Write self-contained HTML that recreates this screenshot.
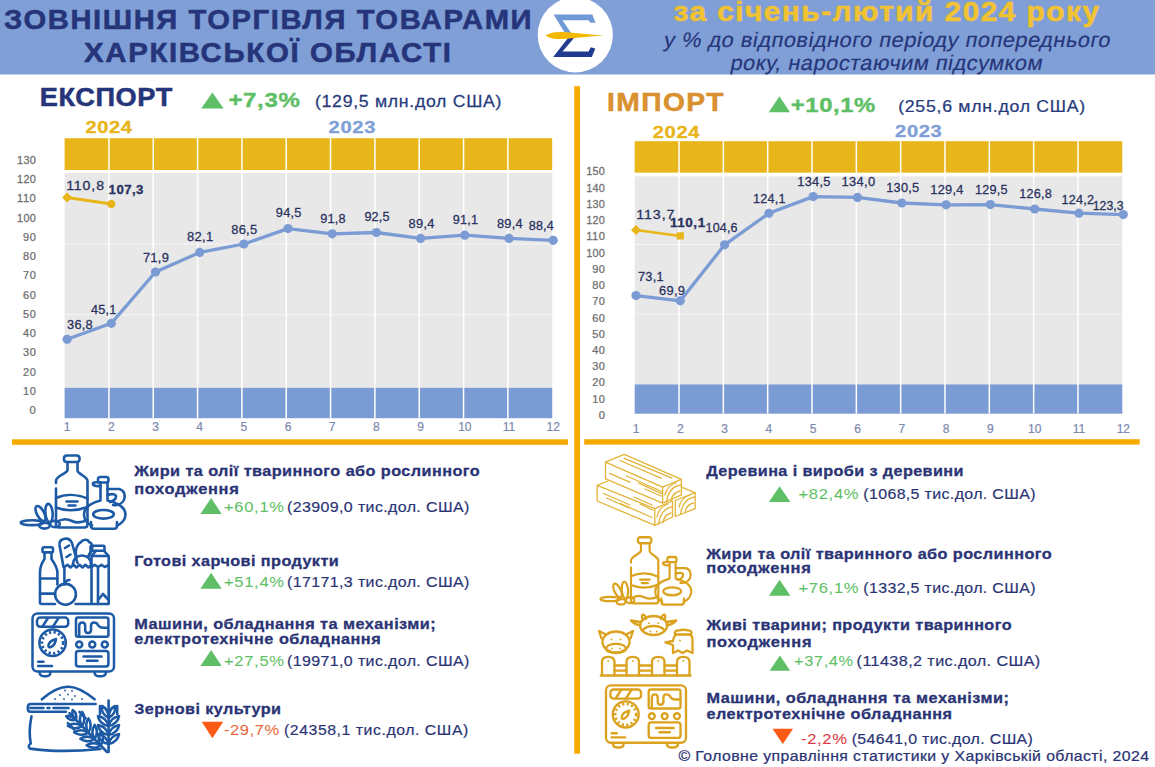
<!DOCTYPE html>
<html><head><meta charset="utf-8"><title>Зовнішня торгівля товарами Харківської області</title>
<style>html,body{margin:0;padding:0;background:#fff;width:1155px;height:767px;overflow:hidden}
text{font-family:"Liberation Sans", sans-serif}</style></head><body>
<svg width="1155" height="767" viewBox="0 0 1155 767" style="display:block"><rect width="1155" height="767" fill="#ffffff"/><rect x="0" y="0" width="1155" height="74.5" fill="#7f9fd6"/><g transform="translate(4.0,28.7) scale(1.0810,1)"><text x="0" y="0" font-size="27" font-weight="bold" font-style="normal" fill="#26357a" text-anchor="start" textLength="488.0" lengthAdjust="spacing" stroke="#26357a" stroke-width="0.54">ЗОВНІШНЯ ТОРГІВЛЯ ТОВАРАМИ</text></g><g transform="translate(84.0,61.9) scale(1.0887,1)"><text x="0" y="0" font-size="27" font-weight="bold" font-style="normal" fill="#26357a" text-anchor="start" textLength="337.1" lengthAdjust="spacing" stroke="#26357a" stroke-width="0.54">ХАРКІВСЬКОЇ ОБЛАСТІ</text></g><g transform="translate(673.5,21.4) scale(1.0875,1)"><text x="0" y="0" font-size="27.5" font-weight="bold" font-style="normal" fill="#f1c232" text-anchor="start" textLength="391.3" lengthAdjust="spacing" stroke="#f1c232" stroke-width="0.55">за січень-лютий 2024 року</text></g><g transform="translate(663.0,47.0) skewX(-11) scale(1.0418,1)"><text x="0" y="0" font-size="21" font-weight="normal" font-style="normal" fill="#26357a" text-anchor="start" textLength="428.6" lengthAdjust="spacing" stroke="#26357a" stroke-width="0.15">у % до відповідного періоду попереднього</text></g><g transform="translate(729.5,69.8) skewX(-11) scale(1.0403,1)"><text x="0" y="0" font-size="21" font-weight="normal" font-style="normal" fill="#26357a" text-anchor="start" textLength="299.9" lengthAdjust="spacing" stroke="#26357a" stroke-width="0.15">року, наростаючим підсумком</text></g><circle cx="575.3" cy="34.8" r="37.6" fill="#ffffff"/><polygon points="553.5,14.4 592.3,14.4 595.5,22.8 590.5,22.8 588.5,20.2 562.5,20.2 571.5,33.5 566.5,35.5" fill="#6f9ad6"/><polygon points="568,38 574,38 562.5,51.5 588.5,51.5 590.8,47.2 595.3,48.5 591.8,56.9 553.2,56.9" fill="#1f3a8f"/><path d="M545.6,35.5 C550,32.5 556,31.5 563,32 C575,33 590,34.5 604,35.5 C590,36.5 575,38 563,39 C556,39.5 550,38.5 545.6,35.5 Z" fill="#f5b800"/><rect x="64.6" y="138.2" width="487.6" height="32.0" fill="#e8b51a"/><rect x="64.6" y="173.0" width="487.6" height="214.8" fill="#e8e8e8"/><rect x="64.6" y="387.8" width="487.6" height="30.4" fill="#7b9bd4"/><rect x="64.6" y="243.5" width="487.6" height="1" fill="#f6f6f6"/><rect x="64.6" y="314.2" width="487.6" height="1" fill="#f6f6f6"/><rect x="108.18" y="138.2" width="1.5" height="280.0" fill="#ffffff"/><rect x="152.50" y="138.2" width="1.5" height="280.0" fill="#ffffff"/><rect x="196.83" y="138.2" width="1.5" height="280.0" fill="#ffffff"/><rect x="241.16" y="138.2" width="1.5" height="280.0" fill="#ffffff"/><rect x="285.49" y="138.2" width="1.5" height="280.0" fill="#ffffff"/><rect x="329.81" y="138.2" width="1.5" height="280.0" fill="#ffffff"/><rect x="374.14" y="138.2" width="1.5" height="280.0" fill="#ffffff"/><rect x="418.47" y="138.2" width="1.5" height="280.0" fill="#ffffff"/><rect x="462.80" y="138.2" width="1.5" height="280.0" fill="#ffffff"/><rect x="507.12" y="138.2" width="1.5" height="280.0" fill="#ffffff"/><rect x="64.6" y="170.2" width="487.6" height="2.8" fill="#ffffff"/><g transform="translate(35.8,414.2) scale(1.0631,1)"><text x="0" y="0" font-size="10.5" font-weight="normal" font-style="normal" fill="#6e6e6e" text-anchor="end" textLength="6.2" lengthAdjust="spacing" stroke="#6e6e6e" stroke-width="0.25">0</text></g><g transform="translate(35.8,394.9) scale(1.0469,1)"><text x="0" y="0" font-size="10.5" font-weight="normal" font-style="normal" fill="#6e6e6e" text-anchor="end" textLength="12.2" lengthAdjust="spacing" stroke="#6e6e6e" stroke-width="0.25">10</text></g><g transform="translate(35.8,375.7) scale(1.0469,1)"><text x="0" y="0" font-size="10.5" font-weight="normal" font-style="normal" fill="#6e6e6e" text-anchor="end" textLength="12.2" lengthAdjust="spacing" stroke="#6e6e6e" stroke-width="0.25">20</text></g><g transform="translate(35.8,356.4) scale(1.0469,1)"><text x="0" y="0" font-size="10.5" font-weight="normal" font-style="normal" fill="#6e6e6e" text-anchor="end" textLength="12.2" lengthAdjust="spacing" stroke="#6e6e6e" stroke-width="0.25">30</text></g><g transform="translate(35.8,337.2) scale(1.0469,1)"><text x="0" y="0" font-size="10.5" font-weight="normal" font-style="normal" fill="#6e6e6e" text-anchor="end" textLength="12.2" lengthAdjust="spacing" stroke="#6e6e6e" stroke-width="0.25">40</text></g><g transform="translate(35.8,317.9) scale(1.0469,1)"><text x="0" y="0" font-size="10.5" font-weight="normal" font-style="normal" fill="#6e6e6e" text-anchor="end" textLength="12.2" lengthAdjust="spacing" stroke="#6e6e6e" stroke-width="0.25">50</text></g><g transform="translate(35.8,298.7) scale(1.0469,1)"><text x="0" y="0" font-size="10.5" font-weight="normal" font-style="normal" fill="#6e6e6e" text-anchor="end" textLength="12.2" lengthAdjust="spacing" stroke="#6e6e6e" stroke-width="0.25">60</text></g><g transform="translate(35.8,279.4) scale(1.0469,1)"><text x="0" y="0" font-size="10.5" font-weight="normal" font-style="normal" fill="#6e6e6e" text-anchor="end" textLength="12.2" lengthAdjust="spacing" stroke="#6e6e6e" stroke-width="0.25">70</text></g><g transform="translate(35.8,260.2) scale(1.0469,1)"><text x="0" y="0" font-size="10.5" font-weight="normal" font-style="normal" fill="#6e6e6e" text-anchor="end" textLength="12.2" lengthAdjust="spacing" stroke="#6e6e6e" stroke-width="0.25">80</text></g><g transform="translate(35.8,240.9) scale(1.0469,1)"><text x="0" y="0" font-size="10.5" font-weight="normal" font-style="normal" fill="#6e6e6e" text-anchor="end" textLength="12.2" lengthAdjust="spacing" stroke="#6e6e6e" stroke-width="0.25">90</text></g><g transform="translate(35.8,221.7) scale(1.0359,1)"><text x="0" y="0" font-size="10.5" font-weight="normal" font-style="normal" fill="#6e6e6e" text-anchor="end" textLength="18.1" lengthAdjust="spacing" stroke="#6e6e6e" stroke-width="0.25">100</text></g><g transform="translate(35.8,202.4) scale(1.0597,1)"><text x="0" y="0" font-size="10.5" font-weight="normal" font-style="normal" fill="#6e6e6e" text-anchor="end" textLength="17.7" lengthAdjust="spacing" stroke="#6e6e6e" stroke-width="0.25">110</text></g><g transform="translate(35.8,183.2) scale(1.0359,1)"><text x="0" y="0" font-size="10.5" font-weight="normal" font-style="normal" fill="#6e6e6e" text-anchor="end" textLength="18.1" lengthAdjust="spacing" stroke="#6e6e6e" stroke-width="0.25">120</text></g><g transform="translate(35.8,163.9) scale(1.0359,1)"><text x="0" y="0" font-size="10.5" font-weight="normal" font-style="normal" fill="#6e6e6e" text-anchor="end" textLength="18.1" lengthAdjust="spacing" stroke="#6e6e6e" stroke-width="0.25">130</text></g><g transform="translate(67.1,431.3) scale(1.0000,1)"><text x="0" y="0" font-size="12" font-weight="normal" font-style="normal" fill="#7c88ae" text-anchor="middle" stroke="#7c88ae" stroke-width="0.20">1</text></g><g transform="translate(111.3,431.3) scale(1.0000,1)"><text x="0" y="0" font-size="12" font-weight="normal" font-style="normal" fill="#7c88ae" text-anchor="middle" stroke="#7c88ae" stroke-width="0.20">2</text></g><g transform="translate(155.5,431.3) scale(1.0000,1)"><text x="0" y="0" font-size="12" font-weight="normal" font-style="normal" fill="#7c88ae" text-anchor="middle" stroke="#7c88ae" stroke-width="0.20">3</text></g><g transform="translate(199.7,431.3) scale(1.0000,1)"><text x="0" y="0" font-size="12" font-weight="normal" font-style="normal" fill="#7c88ae" text-anchor="middle" stroke="#7c88ae" stroke-width="0.20">4</text></g><g transform="translate(243.9,431.3) scale(1.0000,1)"><text x="0" y="0" font-size="12" font-weight="normal" font-style="normal" fill="#7c88ae" text-anchor="middle" stroke="#7c88ae" stroke-width="0.20">5</text></g><g transform="translate(288.0,431.3) scale(1.0000,1)"><text x="0" y="0" font-size="12" font-weight="normal" font-style="normal" fill="#7c88ae" text-anchor="middle" stroke="#7c88ae" stroke-width="0.20">6</text></g><g transform="translate(332.2,431.3) scale(1.0000,1)"><text x="0" y="0" font-size="12" font-weight="normal" font-style="normal" fill="#7c88ae" text-anchor="middle" stroke="#7c88ae" stroke-width="0.20">7</text></g><g transform="translate(376.4,431.3) scale(1.0000,1)"><text x="0" y="0" font-size="12" font-weight="normal" font-style="normal" fill="#7c88ae" text-anchor="middle" stroke="#7c88ae" stroke-width="0.20">8</text></g><g transform="translate(420.6,431.3) scale(1.0000,1)"><text x="0" y="0" font-size="12" font-weight="normal" font-style="normal" fill="#7c88ae" text-anchor="middle" stroke="#7c88ae" stroke-width="0.20">9</text></g><g transform="translate(464.8,431.3) scale(1.0000,1)"><text x="0" y="0" font-size="12" font-weight="normal" font-style="normal" fill="#7c88ae" text-anchor="middle" stroke="#7c88ae" stroke-width="0.20">10</text></g><g transform="translate(509.0,431.3) scale(1.0000,1)"><text x="0" y="0" font-size="12" font-weight="normal" font-style="normal" fill="#7c88ae" text-anchor="middle" stroke="#7c88ae" stroke-width="0.20">11</text></g><g transform="translate(553.2,431.3) scale(1.0000,1)"><text x="0" y="0" font-size="12" font-weight="normal" font-style="normal" fill="#7c88ae" text-anchor="middle" stroke="#7c88ae" stroke-width="0.20">12</text></g><rect x="634.7" y="141.2" width="487.6" height="31.6" fill="#e8b51a"/><rect x="634.7" y="176.2" width="487.6" height="208.2" fill="#e8e8e8"/><rect x="634.7" y="384.4" width="487.6" height="29.3" fill="#7b9bd4"/><rect x="634.7" y="244.0" width="487.6" height="1" fill="#f6f6f6"/><rect x="634.7" y="313.3" width="487.6" height="1" fill="#f6f6f6"/><rect x="678.28" y="141.2" width="1.5" height="272.5" fill="#ffffff"/><rect x="722.60" y="141.2" width="1.5" height="272.5" fill="#ffffff"/><rect x="766.93" y="141.2" width="1.5" height="272.5" fill="#ffffff"/><rect x="811.26" y="141.2" width="1.5" height="272.5" fill="#ffffff"/><rect x="855.59" y="141.2" width="1.5" height="272.5" fill="#ffffff"/><rect x="899.91" y="141.2" width="1.5" height="272.5" fill="#ffffff"/><rect x="944.24" y="141.2" width="1.5" height="272.5" fill="#ffffff"/><rect x="988.57" y="141.2" width="1.5" height="272.5" fill="#ffffff"/><rect x="1032.90" y="141.2" width="1.5" height="272.5" fill="#ffffff"/><rect x="1077.22" y="141.2" width="1.5" height="272.5" fill="#ffffff"/><rect x="634.7" y="172.8" width="487.6" height="3.4" fill="#ffffff"/><g transform="translate(604.9,418.9) scale(1.0631,1)"><text x="0" y="0" font-size="10.5" font-weight="normal" font-style="normal" fill="#6e6e6e" text-anchor="end" textLength="6.2" lengthAdjust="spacing" stroke="#6e6e6e" stroke-width="0.25">0</text></g><g transform="translate(604.9,402.7) scale(1.0469,1)"><text x="0" y="0" font-size="10.5" font-weight="normal" font-style="normal" fill="#6e6e6e" text-anchor="end" textLength="12.2" lengthAdjust="spacing" stroke="#6e6e6e" stroke-width="0.25">10</text></g><g transform="translate(604.9,386.4) scale(1.0469,1)"><text x="0" y="0" font-size="10.5" font-weight="normal" font-style="normal" fill="#6e6e6e" text-anchor="end" textLength="12.2" lengthAdjust="spacing" stroke="#6e6e6e" stroke-width="0.25">20</text></g><g transform="translate(604.9,370.2) scale(1.0469,1)"><text x="0" y="0" font-size="10.5" font-weight="normal" font-style="normal" fill="#6e6e6e" text-anchor="end" textLength="12.2" lengthAdjust="spacing" stroke="#6e6e6e" stroke-width="0.25">30</text></g><g transform="translate(604.9,354.0) scale(1.0469,1)"><text x="0" y="0" font-size="10.5" font-weight="normal" font-style="normal" fill="#6e6e6e" text-anchor="end" textLength="12.2" lengthAdjust="spacing" stroke="#6e6e6e" stroke-width="0.25">40</text></g><g transform="translate(604.9,337.7) scale(1.0469,1)"><text x="0" y="0" font-size="10.5" font-weight="normal" font-style="normal" fill="#6e6e6e" text-anchor="end" textLength="12.2" lengthAdjust="spacing" stroke="#6e6e6e" stroke-width="0.25">50</text></g><g transform="translate(604.9,321.5) scale(1.0469,1)"><text x="0" y="0" font-size="10.5" font-weight="normal" font-style="normal" fill="#6e6e6e" text-anchor="end" textLength="12.2" lengthAdjust="spacing" stroke="#6e6e6e" stroke-width="0.25">60</text></g><g transform="translate(604.9,305.3) scale(1.0469,1)"><text x="0" y="0" font-size="10.5" font-weight="normal" font-style="normal" fill="#6e6e6e" text-anchor="end" textLength="12.2" lengthAdjust="spacing" stroke="#6e6e6e" stroke-width="0.25">70</text></g><g transform="translate(604.9,289.0) scale(1.0469,1)"><text x="0" y="0" font-size="10.5" font-weight="normal" font-style="normal" fill="#6e6e6e" text-anchor="end" textLength="12.2" lengthAdjust="spacing" stroke="#6e6e6e" stroke-width="0.25">80</text></g><g transform="translate(604.9,272.8) scale(1.0469,1)"><text x="0" y="0" font-size="10.5" font-weight="normal" font-style="normal" fill="#6e6e6e" text-anchor="end" textLength="12.2" lengthAdjust="spacing" stroke="#6e6e6e" stroke-width="0.25">90</text></g><g transform="translate(604.9,256.6) scale(1.0359,1)"><text x="0" y="0" font-size="10.5" font-weight="normal" font-style="normal" fill="#6e6e6e" text-anchor="end" textLength="18.1" lengthAdjust="spacing" stroke="#6e6e6e" stroke-width="0.25">100</text></g><g transform="translate(604.9,240.3) scale(1.0597,1)"><text x="0" y="0" font-size="10.5" font-weight="normal" font-style="normal" fill="#6e6e6e" text-anchor="end" textLength="17.7" lengthAdjust="spacing" stroke="#6e6e6e" stroke-width="0.25">110</text></g><g transform="translate(604.9,224.1) scale(1.0359,1)"><text x="0" y="0" font-size="10.5" font-weight="normal" font-style="normal" fill="#6e6e6e" text-anchor="end" textLength="18.1" lengthAdjust="spacing" stroke="#6e6e6e" stroke-width="0.25">120</text></g><g transform="translate(604.9,207.9) scale(1.0359,1)"><text x="0" y="0" font-size="10.5" font-weight="normal" font-style="normal" fill="#6e6e6e" text-anchor="end" textLength="18.1" lengthAdjust="spacing" stroke="#6e6e6e" stroke-width="0.25">130</text></g><g transform="translate(604.9,191.6) scale(1.0359,1)"><text x="0" y="0" font-size="10.5" font-weight="normal" font-style="normal" fill="#6e6e6e" text-anchor="end" textLength="18.1" lengthAdjust="spacing" stroke="#6e6e6e" stroke-width="0.25">140</text></g><g transform="translate(604.9,175.4) scale(1.0359,1)"><text x="0" y="0" font-size="10.5" font-weight="normal" font-style="normal" fill="#6e6e6e" text-anchor="end" textLength="18.1" lengthAdjust="spacing" stroke="#6e6e6e" stroke-width="0.25">150</text></g><g transform="translate(636.0,433.3) scale(1.0000,1)"><text x="0" y="0" font-size="12" font-weight="normal" font-style="normal" fill="#7c88ae" text-anchor="middle" stroke="#7c88ae" stroke-width="0.20">1</text></g><g transform="translate(680.3,433.3) scale(1.0000,1)"><text x="0" y="0" font-size="12" font-weight="normal" font-style="normal" fill="#7c88ae" text-anchor="middle" stroke="#7c88ae" stroke-width="0.20">2</text></g><g transform="translate(724.6,433.3) scale(1.0000,1)"><text x="0" y="0" font-size="12" font-weight="normal" font-style="normal" fill="#7c88ae" text-anchor="middle" stroke="#7c88ae" stroke-width="0.20">3</text></g><g transform="translate(768.9,433.3) scale(1.0000,1)"><text x="0" y="0" font-size="12" font-weight="normal" font-style="normal" fill="#7c88ae" text-anchor="middle" stroke="#7c88ae" stroke-width="0.20">4</text></g><g transform="translate(813.2,433.3) scale(1.0000,1)"><text x="0" y="0" font-size="12" font-weight="normal" font-style="normal" fill="#7c88ae" text-anchor="middle" stroke="#7c88ae" stroke-width="0.20">5</text></g><g transform="translate(857.5,433.3) scale(1.0000,1)"><text x="0" y="0" font-size="12" font-weight="normal" font-style="normal" fill="#7c88ae" text-anchor="middle" stroke="#7c88ae" stroke-width="0.20">6</text></g><g transform="translate(901.8,433.3) scale(1.0000,1)"><text x="0" y="0" font-size="12" font-weight="normal" font-style="normal" fill="#7c88ae" text-anchor="middle" stroke="#7c88ae" stroke-width="0.20">7</text></g><g transform="translate(946.1,433.3) scale(1.0000,1)"><text x="0" y="0" font-size="12" font-weight="normal" font-style="normal" fill="#7c88ae" text-anchor="middle" stroke="#7c88ae" stroke-width="0.20">8</text></g><g transform="translate(990.4,433.3) scale(1.0000,1)"><text x="0" y="0" font-size="12" font-weight="normal" font-style="normal" fill="#7c88ae" text-anchor="middle" stroke="#7c88ae" stroke-width="0.20">9</text></g><g transform="translate(1034.7,433.3) scale(1.0000,1)"><text x="0" y="0" font-size="12" font-weight="normal" font-style="normal" fill="#7c88ae" text-anchor="middle" stroke="#7c88ae" stroke-width="0.20">10</text></g><g transform="translate(1079.0,433.3) scale(1.0000,1)"><text x="0" y="0" font-size="12" font-weight="normal" font-style="normal" fill="#7c88ae" text-anchor="middle" stroke="#7c88ae" stroke-width="0.20">11</text></g><g transform="translate(1123.3,433.3) scale(1.0000,1)"><text x="0" y="0" font-size="12" font-weight="normal" font-style="normal" fill="#7c88ae" text-anchor="middle" stroke="#7c88ae" stroke-width="0.20">12</text></g><rect x="574.2" y="86.2" width="5.8" height="667.5" fill="#f6aa00"/><rect x="12" y="439.3" width="556" height="5.5" fill="#f6aa00"/><rect x="584.2" y="439.2" width="555.5" height="5.4" fill="#f6aa00"/><polyline points="67.1,339.3 111.3,323.3 155.5,272.0 199.7,252.4 243.9,244.0 288.0,228.6 332.2,233.8 376.4,232.5 420.6,238.4 464.8,235.2 509.0,238.4 553.2,240.3" fill="none" stroke="#7b9bd4" stroke-width="3.3" stroke-linejoin="round"/><circle cx="67.1" cy="339.3" r="4.6" fill="#7b9bd4"/><circle cx="111.3" cy="323.3" r="4.6" fill="#7b9bd4"/><circle cx="155.5" cy="272.0" r="4.6" fill="#7b9bd4"/><circle cx="199.7" cy="252.4" r="4.6" fill="#7b9bd4"/><circle cx="243.9" cy="244.0" r="4.6" fill="#7b9bd4"/><circle cx="288.0" cy="228.6" r="4.6" fill="#7b9bd4"/><circle cx="332.2" cy="233.8" r="4.6" fill="#7b9bd4"/><circle cx="376.4" cy="232.5" r="4.6" fill="#7b9bd4"/><circle cx="420.6" cy="238.4" r="4.6" fill="#7b9bd4"/><circle cx="464.8" cy="235.2" r="4.6" fill="#7b9bd4"/><circle cx="509.0" cy="238.4" r="4.6" fill="#7b9bd4"/><circle cx="553.2" cy="240.3" r="4.6" fill="#7b9bd4"/><polyline points="67.1,197.4 111.3,204.1" fill="none" stroke="#e8b51a" stroke-width="3"/><polygon points="62.099999999999994,197.4 67.1,192.4 72.1,197.4 67.1,202.4" fill="#e8b51a"/><circle cx="111.3" cy="204.1" r="4" fill="#e8b51a"/><polyline points="636.0,295.6 680.3,300.8 724.6,244.8 768.9,213.3 813.2,196.6 857.5,197.4 901.8,203.0 946.1,204.8 990.4,204.6 1034.7,209.0 1079.0,213.2 1123.3,214.6" fill="none" stroke="#7b9bd4" stroke-width="3.3" stroke-linejoin="round"/><circle cx="636.0" cy="295.6" r="4.6" fill="#7b9bd4"/><circle cx="680.3" cy="300.8" r="4.6" fill="#7b9bd4"/><circle cx="724.6" cy="244.8" r="4.6" fill="#7b9bd4"/><circle cx="768.9" cy="213.3" r="4.6" fill="#7b9bd4"/><circle cx="813.2" cy="196.6" r="4.6" fill="#7b9bd4"/><circle cx="857.5" cy="197.4" r="4.6" fill="#7b9bd4"/><circle cx="901.8" cy="203.0" r="4.6" fill="#7b9bd4"/><circle cx="946.1" cy="204.8" r="4.6" fill="#7b9bd4"/><circle cx="990.4" cy="204.6" r="4.6" fill="#7b9bd4"/><circle cx="1034.7" cy="209.0" r="4.6" fill="#7b9bd4"/><circle cx="1079.0" cy="213.2" r="4.6" fill="#7b9bd4"/><circle cx="1123.3" cy="214.6" r="4.6" fill="#7b9bd4"/><polyline points="636.0,230.1 680.3,235.9" fill="none" stroke="#e8b51a" stroke-width="2.5"/><polygon points="631.0,230.1 636.0,225.1 641.0,230.1 636.0,235.1" fill="#e8b51a"/><rect x="676.7" y="232.3" width="7.2" height="7.2" fill="#e8b51a"/><g transform="translate(66.2,190.0) scale(1.1574,1)"><text x="0" y="0" font-size="12.2" font-weight="normal" font-style="normal" fill="#2a325f" text-anchor="start" textLength="32.7" lengthAdjust="spacing" stroke="#2a325f" stroke-width="0.28">110,8</text></g><g transform="translate(108.6,194.0) scale(1.0836,1)"><text x="0" y="0" font-size="12.2" font-weight="bold" font-style="normal" fill="#2a325f" text-anchor="start" textLength="32.2" lengthAdjust="spacing" stroke="#2a325f" stroke-width="0.30">107,3</text></g><g transform="translate(67.0,329.0) scale(1.0511,1)"><text x="0" y="0" font-size="12.2" font-weight="normal" font-style="normal" fill="#2a325f" text-anchor="start" textLength="24.5" lengthAdjust="spacing" stroke="#2a325f" stroke-width="0.28">36,8</text></g><g transform="translate(90.9,314.0) scale(1.0388,1)"><text x="0" y="0" font-size="12.2" font-weight="normal" font-style="normal" fill="#2a325f" text-anchor="start" textLength="24.4" lengthAdjust="spacing" stroke="#2a325f" stroke-width="0.28">45,1</text></g><g transform="translate(142.9,262.2) scale(1.0559,1)"><text x="0" y="0" font-size="12.2" font-weight="normal" font-style="normal" fill="#2a325f" text-anchor="start" textLength="24.6" lengthAdjust="spacing" stroke="#2a325f" stroke-width="0.28">71,9</text></g><g transform="translate(187.0,241.4) scale(1.0584,1)"><text x="0" y="0" font-size="12.2" font-weight="normal" font-style="normal" fill="#2a325f" text-anchor="start" textLength="24.7" lengthAdjust="spacing" stroke="#2a325f" stroke-width="0.28">82,1</text></g><g transform="translate(231.2,233.6) scale(1.0559,1)"><text x="0" y="0" font-size="12.2" font-weight="normal" font-style="normal" fill="#2a325f" text-anchor="start" textLength="24.6" lengthAdjust="spacing" stroke="#2a325f" stroke-width="0.28">86,5</text></g><g transform="translate(275.8,217.2) scale(1.0462,1)"><text x="0" y="0" font-size="12.2" font-weight="normal" font-style="normal" fill="#2a325f" text-anchor="start" textLength="24.5" lengthAdjust="spacing" stroke="#2a325f" stroke-width="0.28">94,5</text></g><g transform="translate(320.3,223.2) scale(1.0388,1)"><text x="0" y="0" font-size="12.2" font-weight="normal" font-style="normal" fill="#2a325f" text-anchor="start" textLength="24.4" lengthAdjust="spacing" stroke="#2a325f" stroke-width="0.28">91,8</text></g><g transform="translate(364.4,221.4) scale(1.0363,1)"><text x="0" y="0" font-size="12.2" font-weight="normal" font-style="normal" fill="#2a325f" text-anchor="start" textLength="24.3" lengthAdjust="spacing" stroke="#2a325f" stroke-width="0.28">92,5</text></g><g transform="translate(408.6,227.6) scale(1.0511,1)"><text x="0" y="0" font-size="12.2" font-weight="normal" font-style="normal" fill="#2a325f" text-anchor="start" textLength="24.5" lengthAdjust="spacing" stroke="#2a325f" stroke-width="0.28">89,4</text></g><g transform="translate(452.7,224.0) scale(1.0388,1)"><text x="0" y="0" font-size="12.2" font-weight="normal" font-style="normal" fill="#2a325f" text-anchor="start" textLength="24.4" lengthAdjust="spacing" stroke="#2a325f" stroke-width="0.28">91,1</text></g><g transform="translate(496.9,227.6) scale(1.0486,1)"><text x="0" y="0" font-size="12.2" font-weight="normal" font-style="normal" fill="#2a325f" text-anchor="start" textLength="24.5" lengthAdjust="spacing" stroke="#2a325f" stroke-width="0.28">89,4</text></g><g transform="translate(528.8,229.7) scale(1.0314,1)"><text x="0" y="0" font-size="12.2" font-weight="normal" font-style="normal" fill="#2a325f" text-anchor="start" textLength="24.2" lengthAdjust="spacing" stroke="#2a325f" stroke-width="0.28">88,4</text></g><g transform="translate(636.2,218.8) scale(1.1666,1)"><text x="0" y="0" font-size="12.2" font-weight="normal" font-style="normal" fill="#2a325f" text-anchor="start" textLength="32.8" lengthAdjust="spacing" stroke="#2a325f" stroke-width="0.28">113,7</text></g><g transform="translate(670.0,227.1) scale(1.1019,1)"><text x="0" y="0" font-size="12.2" font-weight="bold" font-style="normal" fill="#2a325f" text-anchor="start" textLength="31.9" lengthAdjust="spacing" stroke="#2a325f" stroke-width="0.30">110,1</text></g><g transform="translate(705.6,231.8) scale(1.0286,1)"><text x="0" y="0" font-size="12.2" font-weight="normal" font-style="normal" fill="#2a325f" text-anchor="start" textLength="31.1" lengthAdjust="spacing" stroke="#2a325f" stroke-width="0.28">104,6</text></g><g transform="translate(753.1,202.9) scale(1.0382,1)"><text x="0" y="0" font-size="12.2" font-weight="normal" font-style="normal" fill="#2a325f" text-anchor="start" textLength="31.3" lengthAdjust="spacing" stroke="#2a325f" stroke-width="0.28">124,1</text></g><g transform="translate(797.3,186.0) scale(1.0478,1)"><text x="0" y="0" font-size="12.2" font-weight="normal" font-style="normal" fill="#2a325f" text-anchor="start" textLength="31.5" lengthAdjust="spacing" stroke="#2a325f" stroke-width="0.28">134,5</text></g><g transform="translate(841.4,186.0) scale(1.0611,1)"><text x="0" y="0" font-size="12.2" font-weight="normal" font-style="normal" fill="#2a325f" text-anchor="start" textLength="31.8" lengthAdjust="spacing" stroke="#2a325f" stroke-width="0.28">134,0</text></g><g transform="translate(886.2,192.0) scale(1.0478,1)"><text x="0" y="0" font-size="12.2" font-weight="normal" font-style="normal" fill="#2a325f" text-anchor="start" textLength="31.5" lengthAdjust="spacing" stroke="#2a325f" stroke-width="0.28">130,5</text></g><g transform="translate(930.3,193.8) scale(1.0497,1)"><text x="0" y="0" font-size="12.2" font-weight="normal" font-style="normal" fill="#2a325f" text-anchor="start" textLength="31.5" lengthAdjust="spacing" stroke="#2a325f" stroke-width="0.28">129,4</text></g><g transform="translate(975.0,193.8) scale(1.0401,1)"><text x="0" y="0" font-size="12.2" font-weight="normal" font-style="normal" fill="#2a325f" text-anchor="start" textLength="31.3" lengthAdjust="spacing" stroke="#2a325f" stroke-width="0.28">129,5</text></g><g transform="translate(1019.2,198.0) scale(1.0382,1)"><text x="0" y="0" font-size="12.2" font-weight="normal" font-style="normal" fill="#2a325f" text-anchor="start" textLength="31.3" lengthAdjust="spacing" stroke="#2a325f" stroke-width="0.28">126,8</text></g><g transform="translate(1061.5,203.7) scale(1.0382,1)"><text x="0" y="0" font-size="12.2" font-weight="normal" font-style="normal" fill="#2a325f" text-anchor="start" textLength="31.3" lengthAdjust="spacing" stroke="#2a325f" stroke-width="0.28">124,2</text></g><g transform="translate(638.0,281.1) scale(1.0462,1)"><text x="0" y="0" font-size="12.2" font-weight="normal" font-style="normal" fill="#2a325f" text-anchor="start" textLength="24.5" lengthAdjust="spacing" stroke="#2a325f" stroke-width="0.28">73,1</text></g><g transform="translate(659.0,294.6) scale(1.0535,1)"><text x="0" y="0" font-size="12.2" font-weight="normal" font-style="normal" fill="#2a325f" text-anchor="start" textLength="24.6" lengthAdjust="spacing" stroke="#2a325f" stroke-width="0.28">69,9</text></g><g transform="translate(1092.7,209.7) scale(1.0072,1)"><text x="0" y="0" font-size="12.2" font-weight="normal" font-style="normal" fill="#2a325f" text-anchor="start" textLength="30.7" lengthAdjust="spacing" stroke="#2a325f" stroke-width="0.28">123,3</text></g><g transform="translate(85.4,133.3) scale(1.2550,1)"><text x="0" y="0" font-size="16" font-weight="bold" font-style="normal" fill="#e8b51a" text-anchor="start" textLength="37.1" lengthAdjust="spacing" stroke="#e8b51a" stroke-width="0.32">2024</text></g><g transform="translate(328.6,133.4) scale(1.2619,1)"><text x="0" y="0" font-size="16" font-weight="bold" font-style="normal" fill="#7f9fd8" text-anchor="start" textLength="37.1" lengthAdjust="spacing" stroke="#7f9fd8" stroke-width="0.32">2023</text></g><g transform="translate(652.8,137.9) scale(1.2573,1)"><text x="0" y="0" font-size="16" font-weight="bold" font-style="normal" fill="#e8b51a" text-anchor="start" textLength="37.1" lengthAdjust="spacing" stroke="#e8b51a" stroke-width="0.32">2024</text></g><g transform="translate(895.1,137.3) scale(1.2596,1)"><text x="0" y="0" font-size="16" font-weight="bold" font-style="normal" fill="#7f9fd8" text-anchor="start" textLength="37.1" lengthAdjust="spacing" stroke="#7f9fd8" stroke-width="0.32">2023</text></g><g transform="translate(39.8,106.2) scale(1.0262,1)"><text x="0" y="0" font-size="26.5" font-weight="bold" font-style="normal" fill="#26357a" text-anchor="start" textLength="129.1" lengthAdjust="spacing" stroke="#26357a" stroke-width="0.53">ЕКСПОРТ</text></g><g transform="translate(607.0,110.7) scale(1.0655,1)"><text x="0" y="0" font-size="26.5" font-weight="bold" font-style="normal" fill="#d9912f" text-anchor="start" textLength="109.3" lengthAdjust="spacing" stroke="#d9912f" stroke-width="0.53">ІМПОРТ</text></g><polygon points="201.2,108.6 223.6,108.6 212.4,92.4" fill="#5fbf66"/><g transform="translate(228.4,107.0) scale(1.2339,1)"><text x="0" y="0" font-size="19.5" font-weight="bold" font-style="normal" fill="#5fbf66" text-anchor="start" textLength="57.9" lengthAdjust="spacing" stroke="#5fbf66" stroke-width="0.39">+7,3%</text></g><g transform="translate(315.0,107.4) scale(1.0722,1)"><text x="0" y="0" font-size="16.5" font-weight="normal" font-style="normal" fill="#283a7c" text-anchor="start" textLength="173.9" lengthAdjust="spacing" stroke="#283a7c" stroke-width="0.25">(129,5 млн.дол США)</text></g><polygon points="768.8,112.3 790.0,112.3 779.4,96.2" fill="#5fbf66"/><g transform="translate(790.8,111.7) scale(1.2230,1)"><text x="0" y="0" font-size="19.5" font-weight="bold" font-style="normal" fill="#5fbf66" text-anchor="start" textLength="69.1" lengthAdjust="spacing" stroke="#5fbf66" stroke-width="0.39">+10,1%</text></g><g transform="translate(898.2,111.9) scale(1.0736,1)"><text x="0" y="0" font-size="16.5" font-weight="normal" font-style="normal" fill="#283a7c" text-anchor="start" textLength="174.2" lengthAdjust="spacing" stroke="#283a7c" stroke-width="0.25">(255,6 млн.дол США)</text></g><g transform="translate(134.2,475.9) scale(1.0479,1)"><text x="0" y="0" font-size="15.5" font-weight="bold" font-style="normal" fill="#2a3475" text-anchor="start" textLength="329.7" lengthAdjust="spacing" stroke="#2a3475" stroke-width="0.31">Жири та олії тваринного або рослинного</text></g><g transform="translate(134.2,493.5) scale(1.0603,1)"><text x="0" y="0" font-size="15.5" font-weight="bold" font-style="normal" fill="#2a3475" text-anchor="start" textLength="98.6" lengthAdjust="spacing" stroke="#2a3475" stroke-width="0.31">походження</text></g><polygon points="200.4,513.9 221.7,513.9 211.1,498.0" fill="#5fbf66"/><g transform="translate(224.0,511.8) scale(1.1428,1)"><text x="0" y="0" font-size="14.5" font-weight="normal" font-style="normal" fill="#5fbf66" text-anchor="start" textLength="52.5" lengthAdjust="spacing" stroke="#5fbf66" stroke-width="0.05">+60,1%</text></g><g transform="translate(287.1,511.8) scale(1.1035,1)"><text x="0" y="0" font-size="14.5" font-weight="normal" font-style="normal" fill="#2a3475" text-anchor="start" textLength="165.1" lengthAdjust="spacing" stroke="#2a3475" stroke-width="0.18">(23909,0 тис.дол. США)</text></g><g transform="translate(134.2,565.6) scale(1.0467,1)"><text x="0" y="0" font-size="15.5" font-weight="bold" font-style="normal" fill="#2a3475" text-anchor="start" textLength="195.4" lengthAdjust="spacing" stroke="#2a3475" stroke-width="0.31">Готові харчові продукти</text></g><polygon points="200.4,588.7 221.7,588.7 211.1,572.7" fill="#5fbf66"/><g transform="translate(224.0,587.1) scale(1.1428,1)"><text x="0" y="0" font-size="14.5" font-weight="normal" font-style="normal" fill="#5fbf66" text-anchor="start" textLength="52.5" lengthAdjust="spacing" stroke="#5fbf66" stroke-width="0.05">+51,4%</text></g><g transform="translate(287.1,587.1) scale(1.1035,1)"><text x="0" y="0" font-size="14.5" font-weight="normal" font-style="normal" fill="#2a3475" text-anchor="start" textLength="165.1" lengthAdjust="spacing" stroke="#2a3475" stroke-width="0.18">(17171,3 тис.дол. США)</text></g><g transform="translate(134.2,629.0) scale(1.0500,1)"><text x="0" y="0" font-size="15.5" font-weight="bold" font-style="normal" fill="#2a3475" text-anchor="start" textLength="287.1" lengthAdjust="spacing" stroke="#2a3475" stroke-width="0.31">Машини, обладнання та механізми;</text></g><g transform="translate(134.2,644.0) scale(1.0512,1)"><text x="0" y="0" font-size="15.5" font-weight="bold" font-style="normal" fill="#2a3475" text-anchor="start" textLength="234.5" lengthAdjust="spacing" stroke="#2a3475" stroke-width="0.31">електротехнічне обладнання</text></g><polygon points="200.4,666.0 221.7,666.0 211.1,650.0" fill="#5fbf66"/><g transform="translate(224.0,665.6) scale(1.1428,1)"><text x="0" y="0" font-size="14.5" font-weight="normal" font-style="normal" fill="#5fbf66" text-anchor="start" textLength="52.5" lengthAdjust="spacing" stroke="#5fbf66" stroke-width="0.05">+27,5%</text></g><g transform="translate(287.1,665.6) scale(1.1035,1)"><text x="0" y="0" font-size="14.5" font-weight="normal" font-style="normal" fill="#2a3475" text-anchor="start" textLength="165.1" lengthAdjust="spacing" stroke="#2a3475" stroke-width="0.18">(19971,0 тис.дол. США)</text></g><g transform="translate(134.2,713.7) scale(1.0453,1)"><text x="0" y="0" font-size="15.5" font-weight="bold" font-style="normal" fill="#2a3475" text-anchor="start" textLength="140.4" lengthAdjust="spacing" stroke="#2a3475" stroke-width="0.31">Зернові культури</text></g><polygon points="201.7,721.7 223.2,721.7 212.4,738.3" fill="#fb5a14"/><g transform="translate(224.0,735.1) scale(1.1371,1)"><text x="0" y="0" font-size="14.5" font-weight="normal" font-style="normal" fill="#e86a3a" text-anchor="start" textLength="48.5" lengthAdjust="spacing" stroke="#e86a3a" stroke-width="0.05">-29,7%</text></g><g transform="translate(284.0,735.1) scale(1.0930,1)"><text x="0" y="0" font-size="14.5" font-weight="normal" font-style="normal" fill="#2a3475" text-anchor="start" textLength="168.6" lengthAdjust="spacing" stroke="#2a3475" stroke-width="0.18">(24358,1  тис.дол. США)</text></g><g transform="translate(706.2,475.6) scale(1.0444,1)"><text x="0" y="0" font-size="15.5" font-weight="bold" font-style="normal" fill="#2a3475" text-anchor="start" textLength="246.3" lengthAdjust="spacing" stroke="#2a3475" stroke-width="0.31">Деревина і вироби з деревини</text></g><polygon points="768.9,502.0 790.4,502.0 779.6,486.2" fill="#5fbf66"/><g transform="translate(798.5,498.7) scale(1.1428,1)"><text x="0" y="0" font-size="14.5" font-weight="normal" font-style="normal" fill="#5fbf66" text-anchor="start" textLength="52.5" lengthAdjust="spacing" stroke="#5fbf66" stroke-width="0.05">+82,4%</text></g><g transform="translate(863.3,498.7) scale(1.1003,1)"><text x="0" y="0" font-size="14.5" font-weight="normal" font-style="normal" fill="#2a3475" text-anchor="start" textLength="156.5" lengthAdjust="spacing" stroke="#2a3475" stroke-width="0.18">(1068,5 тис.дол. США)</text></g><g transform="translate(706.2,559.0) scale(1.0479,1)"><text x="0" y="0" font-size="15.5" font-weight="bold" font-style="normal" fill="#2a3475" text-anchor="start" textLength="329.7" lengthAdjust="spacing" stroke="#2a3475" stroke-width="0.31">Жири та олії тваринного або рослинного</text></g><g transform="translate(706.2,573.4) scale(1.0603,1)"><text x="0" y="0" font-size="15.5" font-weight="bold" font-style="normal" fill="#2a3475" text-anchor="start" textLength="98.6" lengthAdjust="spacing" stroke="#2a3475" stroke-width="0.31">походження</text></g><polygon points="768.9,595.8 790.4,595.8 779.6,579.8" fill="#5fbf66"/><g transform="translate(798.5,593.3) scale(1.1428,1)"><text x="0" y="0" font-size="14.5" font-weight="normal" font-style="normal" fill="#5fbf66" text-anchor="start" textLength="52.5" lengthAdjust="spacing" stroke="#5fbf66" stroke-width="0.05">+76,1%</text></g><g transform="translate(863.3,593.3) scale(1.1003,1)"><text x="0" y="0" font-size="14.5" font-weight="normal" font-style="normal" fill="#2a3475" text-anchor="start" textLength="156.5" lengthAdjust="spacing" stroke="#2a3475" stroke-width="0.18">(1332,5 тис.дол. США)</text></g><g transform="translate(706.5,629.7) scale(1.0457,1)"><text x="0" y="0" font-size="15.5" font-weight="bold" font-style="normal" fill="#2a3475" text-anchor="start" textLength="291.7" lengthAdjust="spacing" stroke="#2a3475" stroke-width="0.31">Живі тварини; продукти тваринного</text></g><g transform="translate(706.5,647.3) scale(1.0628,1)"><text x="0" y="0" font-size="15.5" font-weight="bold" font-style="normal" fill="#2a3475" text-anchor="start" textLength="98.8" lengthAdjust="spacing" stroke="#2a3475" stroke-width="0.31">походження</text></g><polygon points="769.6,670.7 790.2,670.7 779.9,655.5" fill="#5fbf66"/><g transform="translate(794.1,665.8) scale(1.1295,1)"><text x="0" y="0" font-size="14.5" font-weight="normal" font-style="normal" fill="#5fbf66" text-anchor="start" textLength="52.2" lengthAdjust="spacing" stroke="#5fbf66" stroke-width="0.05">+37,4%</text></g><g transform="translate(856.6,665.8) scale(1.1152,1)"><text x="0" y="0" font-size="14.5" font-weight="normal" font-style="normal" fill="#2a3475" text-anchor="start" textLength="164.7" lengthAdjust="spacing" stroke="#2a3475" stroke-width="0.18">(11438,2 тис.дол. США)</text></g><g transform="translate(706.5,702.9) scale(1.0517,1)"><text x="0" y="0" font-size="15.5" font-weight="bold" font-style="normal" fill="#2a3475" text-anchor="start" textLength="287.6" lengthAdjust="spacing" stroke="#2a3475" stroke-width="0.31">Машини, обладнання та механізми;</text></g><g transform="translate(706.5,719.2) scale(1.0491,1)"><text x="0" y="0" font-size="15.5" font-weight="bold" font-style="normal" fill="#2a3475" text-anchor="start" textLength="234.0" lengthAdjust="spacing" stroke="#2a3475" stroke-width="0.31">електротехнічне обладнання</text></g><polygon points="772.5,728.7 793.0,728.7 782.8,744.0" fill="#fb5a14"/><g transform="translate(801.1,744.0) scale(1.1422,1)"><text x="0" y="0" font-size="14.5" font-weight="normal" font-style="normal" fill="#e0383e" text-anchor="start" textLength="40.1" lengthAdjust="spacing" stroke="#e0383e" stroke-width="0.05">-2,2%</text></g><g transform="translate(851.7,744.0) scale(1.0993,1)"><text x="0" y="0" font-size="14.5" font-weight="normal" font-style="normal" fill="#2a3475" text-anchor="start" textLength="164.8" lengthAdjust="spacing" stroke="#2a3475" stroke-width="0.18">(54641,0 тис.дол. США)</text></g><g transform="translate(678.5,761.2) scale(1.0545,1)"><text x="0" y="0" font-size="15" font-weight="normal" font-style="normal" fill="#2a3475" text-anchor="start" textLength="446.2" lengthAdjust="spacing" stroke="#2a3475" stroke-width="0.25">© Головне управління статистики у Харківській області, 2024</text></g><g transform="translate(15,450)"><g fill="none" stroke="#1d5aa6" stroke-width="2.6" stroke-linecap="round" stroke-linejoin="round">
<rect x="49" y="5.5" width="15.5" height="6.5" rx="2.8"/>
<path d="M52.5,12 V20.5 C51,24 41,26 41,31 V33"/>
<path d="M41,38.5 V74.5 Q41,77.5 44,77.5 H69.5 Q72.5,77.5 72.5,74.5 V31 C72.5,26 62.5,24 62.5,20.5 V12"/>
<path d="M41,48 C50,44 62,44 72.5,48.5"/>
<path d="M41,57.5 C50,61 62,61 72.5,57"/>
<path d="M51.5,51.5 H62.5 M53.5,55.5 H60.5"/>
<path d="M41,72.5 C47,68 52,68.5 57,71 C62,73.5 67,72.5 72.5,70"/>
<rect x="83" y="27" width="10.5" height="5.5" rx="2.2"/>
<path d="M85.5,32.5 V50.5 C76,53 69,57.5 69,64.5 C69,70 73,74 77,75.5"/>
<path d="M92.5,32.5 V50.5 C103,53 110.5,57.5 110.5,64.5 C110.5,70 106,74 102,75.5"/>
<path d="M85.5,36 C80,36.5 77,35 78,33.2 C79,32 82,32 85.5,32.5"/>
<path d="M92.5,39 H104 C109,40 111,45 109,50 C107,54 102,55.5 98,55"/>
<path d="M92.5,45 C97,43.5 101,44 101,46.5 C101,49 98,51 95,52"/>
<ellipse cx="88.5" cy="64.3" rx="10.3" ry="4.3"/>
<path d="M76,72 V76 Q76,78.8 79,78.8 H99 Q102,78.8 102,76 V72"/>
<ellipse cx="25.5" cy="63.5" rx="3.6" ry="8.3" transform="rotate(-28 25.5 63.5)"/>
<ellipse cx="34" cy="63" rx="3.6" ry="9.2" transform="rotate(-5 34 63)"/>
<ellipse cx="17" cy="72.7" rx="11.3" ry="2.4"/>
<ellipse cx="29.5" cy="75.6" rx="5.3" ry="3"/>
<ellipse cx="40" cy="74" rx="4.8" ry="3.2"/>
</g></g>
<g transform="translate(30,530)"><g fill="none" stroke="#1d5aa6" stroke-width="2.6" stroke-linecap="round" stroke-linejoin="round">
<rect x="12.5" y="17.2" width="10.5" height="5.2" rx="1.6"/>
<path d="M14.5,22.4 V29 C11,34 10,38 10,42.5 V72.5 Q10,74 11.5,74 H25"/>
<path d="M21.5,22.4 V29 C25,34 27.4,38 27.4,42.5 V54.5"/>
<path d="M10,48.5 H27.4 M10,63.6 H24.5"/>
<circle cx="35.5" cy="64.3" r="10.4"/>
<path d="M35,54 C35.5,51.5 37,50 39.5,50"/>
<path d="M33.5,37 L29.5,15 C29,11.5 31,9.5 34.5,8.8 C38,8.2 40.5,9.5 42,13 L47.5,33"/>
<path d="M35,18 L39,15.5 M36.5,27 L40.5,24.5"/>
<path d="M34.4,54.5 V37 L37.5,34.8 L40.5,37.5 L43.5,34.8 L46.5,37.5 L49.5,34.8 L52.5,37.5 L55.5,34.8 L58.5,37.5 L61.5,34.8 V74"/>
<path d="M45.5,74 H78.5"/>
<path d="M43,35 C43,29 47,25.5 52,25.5 C57,25.5 61,29 61,34"/>
<path d="M46,25 C45,20 47,14 51,12 C53,9 58,9 59,12 C62,13 63,16 62,19 L58.5,26"/>
<rect x="60.5" y="15.8" width="14" height="5" rx="1.2"/>
<path d="M61.5,20.8 L58.5,26 M74,20.8 L78.7,26 H61.5 V37 M78.7,26 V72.5 Q78.7,74 77.2,74 M61.5,26 L66,20.8"/>
<path d="M68,37 V74 M61.5,37 L64.8,34.8 L68,37 L71.5,34.8 L74.8,37 L78.7,34.8"/>
<path d="M68,70 L73,64 L78.7,70"/>
</g></g>
<g transform="translate(25,605)"><g fill="none" stroke="#1d5aa6" stroke-width="2.5" stroke-linecap="round" stroke-linejoin="round">
<rect x="7.5" y="8.5" width="81.5" height="58" rx="5"/>
<path d="M14.5,67 Q14.5,71.2 18.8,71.2 H21.5 Q25.5,71.2 25.5,67"/>
<path d="M69.5,67 Q69.5,71.2 73.8,71.2 H76.5 Q81,71.2 81,67"/>
<rect x="12" y="12.6" width="31.2" height="9.2" rx="3.2"/>
<path d="M17.5,21.5 L23,13 M28,21.5 L33.5,13"/>
<circle cx="27.6" cy="37.8" r="13.2"/>
<circle cx="27.6" cy="37.8" r="10.6" stroke-width="2.75" stroke-dasharray="2.2 2.4" stroke-linecap="butt"/>
<path d="M23.5,41.5 C23.2,38.5 26,35.5 31,34 C30.5,38 28.5,41 26,42 C24.8,42.5 23.8,42.3 23.5,41.5 Z"/>
<rect x="51" y="12.6" width="32.4" height="19.2" rx="2"/>
<path d="M54.2,30.5 V21 Q54.2,17.6 57.2,17.6 Q60.2,17.6 60.2,21 V25 Q60.2,28 63,28 Q66,28 66,25 V21 Q66,17.6 69,17.6 Q72,17.6 73,20 Q74.5,22.8 78,22.8 H83"/>
<circle cx="54.2" cy="39.6" r="3"/>
<circle cx="67.3" cy="39.6" r="3"/>
<circle cx="79.8" cy="39.6" r="3"/>
<rect x="51" y="45.9" width="32.4" height="15.6" rx="2.5"/>
<path d="M58.5,51.5 H76.5 M62,55.8 H72.5"/>
<path d="M13.2,56.8 H18.5 M13.2,61 H27"/>
</g></g>
<g transform="translate(20,680)"><g fill="none" stroke="#1d5aa6" stroke-width="2.6" stroke-linecap="round" stroke-linejoin="round">
<path d="M21.9,19.3 C35,8 43,6.5 49,6.8 C56,7 63,10 74.6,19.3"/>
<path d="M75.6,24 H10.5 Q7.8,24 7.8,27.9 Q7.8,31.8 10.5,31.8 H45.9"/>
<path d="M10.5,28 H23.5 M27.5,28 H29.5 M33.5,28 H48.5"/>
<path d="M11.5,36.2 C9.5,46 9,55 10.8,63.5 C8.5,65 8,67.5 10,68.6 C30,71.5 55,71.5 80.5,69"/>
<path d="M88.6,72 V20.5 M80,26 V34 M97.2,26 V34"/>
<path d="M88.6,38 C83,35 81,30 82,26 C86,28 88.6,32 88.6,38 C88.6,32 91,28 95,26 C96,30 94,35 88.6,38"/>
<path d="M88.6,46 C82,45 78.5,40 78,36 C83,37 87,40 88.6,46"/><path d="M88.6,46 C95,45 98.5,40 99,36 C94,37 90,40 88.6,46"/><path d="M88.6,55 C82,54 78.5,49 78,45 C83,46 87,49 88.6,55"/><path d="M88.6,55 C95,54 98.5,49 99,45 C94,46 90,49 88.6,55"/><path d="M88.6,64 C82,63 78.5,58 78,54 C83,55 87,58 88.6,64"/><path d="M88.6,64 C95,63 98.5,58 99,54 C94,55 90,58 88.6,64"/><g transform="rotate(-44 87 72)"><path d="M87,72 V18 M79,24 V33 M95,24 V33"/><path d="M87,36 C81,35 77.5,30 77,26 C82,27 85.5,30 87,36"/><path d="M87,36 C93,35 96.5,30 97,26 C92,27 88.5,30 87,36"/><path d="M87,45 C81,44 77.5,39 77,35 C82,36 85.5,39 87,45"/><path d="M87,45 C93,44 96.5,39 97,35 C92,36 88.5,39 87,45"/><path d="M87,54 C81,53 77.5,48 77,44 C82,45 85.5,48 87,54"/><path d="M87,54 C93,53 96.5,48 97,44 C92,45 88.5,48 87,54"/><path d="M87,63 C81,62 77.5,57 77,53 C82,54 85.5,57 87,63"/><path d="M87,63 C93,62 96.5,57 97,53 C92,54 88.5,57 87,63"/><path d="M87,27 C83,25 81.5,21 82.5,18 C85.5,19.5 87,23 87,27 C87,23 88.5,19.5 91.5,18 C92.5,21 91,25 87,27"/></g><circle cx="45" cy="10.5" r="0.9" fill="#1d5aa6" stroke="none"/><circle cx="52" cy="11" r="0.9" fill="#1d5aa6" stroke="none"/><circle cx="40" cy="15" r="0.9" fill="#1d5aa6" stroke="none"/><circle cx="48" cy="14.5" r="0.9" fill="#1d5aa6" stroke="none"/><circle cx="55" cy="16" r="0.9" fill="#1d5aa6" stroke="none"/><circle cx="35" cy="19" r="0.9" fill="#1d5aa6" stroke="none"/><circle cx="44" cy="19" r="0.9" fill="#1d5aa6" stroke="none"/><circle cx="52" cy="19.5" r="0.9" fill="#1d5aa6" stroke="none"/><circle cx="62" cy="19" r="0.9" fill="#1d5aa6" stroke="none"/></g></g>
<g transform="translate(590,445)"><g fill="none" stroke="#e2b43a" stroke-width="1.3" stroke-linecap="round" stroke-linejoin="round">
<path d="M15.5,17.2 L34.3,9.4 L91.4,34.3 L72.6,42.1 Z"/>
<path d="M15.5,17.2 V33.8 L72.6,58.2 V42.1 M91.4,34.3 V49.9 L72.6,58.2"/>
<path d="M34.3,13.3 L82,33.2 M30,15.5 L71,33.2 M19.4,28.3 L39.9,37.1 M36.6,31 L72,46.5 M48.7,38.2 L72,48.7 M55,44 L71,51"/>
<path d="M91,40 C84,41 78,46 76.5,57 M90,46 C86,47 82,50 81,55.5 M86,38 C80,40 76,45 75,50"/>
<path d="M7.2,40.4 L17.7,36 M7.2,40.4 L64.8,63.7 L82.5,56 M7.2,40.4 V56 L64.8,80.3 V63.7 M82.5,56 V72 L64.8,80.3"/>
<path d="M13.5,48.5 L40,60 M16.5,53 L39,63 M30.5,58.5 L62,72.5 M44,52 L62,60 M50,59 L63,65"/>
<path d="M82,62 C75,63 70,68 68.5,79 M81,68 C77,69 74,72 73,77.5 M78,59 C72,61 68,66 67,72"/>
<path d="M91.4,42.1 L105.2,47.6 L85.3,55.5 M105.2,47.6 V63.7 L85.3,71.5 V55.5"/>
<path d="M104.5,52 C97,53 92,58 90.5,69 M103.5,58 C99,59 96,62 95,67.5 M100,50 C94,52 90,57 89,62"/>
</g></g>
<g transform="translate(595.43,532.20) scale(0.8673,0.9191)"><g fill="none" stroke="#dba21e" stroke-width="2.5" stroke-linecap="round" stroke-linejoin="round">
<rect x="49" y="5.5" width="15.5" height="6.5" rx="2.8"/>
<path d="M52.5,12 V20.5 C51,24 41,26 41,31 V33"/>
<path d="M41,38.5 V74.5 Q41,77.5 44,77.5 H69.5 Q72.5,77.5 72.5,74.5 V31 C72.5,26 62.5,24 62.5,20.5 V12"/>
<path d="M41,48 C50,44 62,44 72.5,48.5"/>
<path d="M41,57.5 C50,61 62,61 72.5,57"/>
<path d="M51.5,51.5 H62.5 M53.5,55.5 H60.5"/>
<path d="M41,72.5 C47,68 52,68.5 57,71 C62,73.5 67,72.5 72.5,70"/>
<rect x="83" y="27" width="10.5" height="5.5" rx="2.2"/>
<path d="M85.5,32.5 V50.5 C76,53 69,57.5 69,64.5 C69,70 73,74 77,75.5"/>
<path d="M92.5,32.5 V50.5 C103,53 110.5,57.5 110.5,64.5 C110.5,70 106,74 102,75.5"/>
<path d="M85.5,36 C80,36.5 77,35 78,33.2 C79,32 82,32 85.5,32.5"/>
<path d="M92.5,39 H104 C109,40 111,45 109,50 C107,54 102,55.5 98,55"/>
<path d="M92.5,45 C97,43.5 101,44 101,46.5 C101,49 98,51 95,52"/>
<ellipse cx="88.5" cy="64.3" rx="10.3" ry="4.3"/>
<path d="M76,72 V76 Q76,78.8 79,78.8 H99 Q102,78.8 102,76 V72"/>
<ellipse cx="25.5" cy="63.5" rx="3.6" ry="8.3" transform="rotate(-28 25.5 63.5)"/>
<ellipse cx="34" cy="63" rx="3.6" ry="9.2" transform="rotate(-5 34 63)"/>
<ellipse cx="17" cy="72.7" rx="11.3" ry="2.4"/>
<ellipse cx="29.5" cy="75.6" rx="5.3" ry="3"/>
<ellipse cx="40" cy="74" rx="4.8" ry="3.2"/>
</g></g>
<g transform="translate(590,605)"><g fill="none" stroke="#dba21e" stroke-width="2.3" stroke-linecap="round" stroke-linejoin="round">
<path d="M10.8,70.5 H100.5"/>
<path d="M12,70.5 V57 Q12,51.8 18.2,51.8 Q24.5,51.8 24.5,57 V70.5"/>
<path d="M36.5,70.5 V57 Q36.5,51.8 42.8,51.8 Q49,51.8 49,57 V70.5"/>
<path d="M62,70.5 V57 Q62,51.8 68.3,51.8 Q74.5,51.8 74.5,57 V70.5"/>
<path d="M87,70.5 V57 Q87,51.8 93.3,51.8 Q99.5,51.8 99.5,57 V70.5"/>
<path d="M24.5,60.5 H36.5 M24.5,65.7 H36.5 M49,60.5 H62 M49,65.7 H62 M74.5,60.5 H87 M74.5,65.7 H87"/>
<circle cx="18.2" cy="56" r="0.9" fill="#dba21e" stroke="none"/><circle cx="42.8" cy="56" r="0.9" fill="#dba21e" stroke="none"/>
<circle cx="68.3" cy="56" r="0.9" fill="#dba21e" stroke="none"/><circle cx="93.3" cy="56" r="0.9" fill="#dba21e" stroke="none"/>
<ellipse cx="26" cy="37" rx="13.5" ry="10.5"/>
<ellipse cx="26" cy="43.5" rx="10" ry="4.6"/>
<path d="M15,29 L9,26 L11.5,33.5 M37,29 L43,26 L40.5,33.5"/>
<circle cx="21.5" cy="34.5" r="0.9" fill="#dba21e" stroke="none"/><circle cx="30.5" cy="34.5" r="0.9" fill="#dba21e" stroke="none"/>
<circle cx="22" cy="43.5" r="0.9" fill="#dba21e" stroke="none"/><circle cx="30" cy="43.5" r="0.9" fill="#dba21e" stroke="none"/>
<ellipse cx="63.6" cy="20.5" rx="13.5" ry="9.5"/>
<path d="M52.5,25.5 C55,22 59,21 63.6,21 C68,21 72,22 74.6,25.5"/>
<path d="M53,15 C51.5,12 51.5,10 53,9.5 C55,10 56,12 56,14 M74.2,15 C75.7,12 75.7,10 74.2,9.5 C72.2,10 71.2,12 71.2,14"/>
<path d="M51,17 L41,15.5 C43,18 46,20 50.5,20 M76.2,17 L86.2,15.5 C84.2,18 81.2,20 76.7,20"/>
<circle cx="58.9" cy="18.2" r="0.9" fill="#dba21e" stroke="none"/><circle cx="68.3" cy="18.2" r="0.9" fill="#dba21e" stroke="none"/>
<circle cx="60.5" cy="26.5" r="0.9" fill="#dba21e" stroke="none"/><circle cx="66.7" cy="26.5" r="0.9" fill="#dba21e" stroke="none"/>
<path d="M85,29.5 C84,27 86,25 89,25.5 C92,24.5 95,24.5 98,25.5 C101,25 102.5,27.5 101,29.5 Z"/>
<path d="M86,29.5 C84,31.5 83,33.5 83,36 L75.5,37.5 L83,40 V48 L88,45.5 L92.5,48 L97,45.5 L102.5,48 V35 C102.5,32 101.5,30.5 100,29.5"/>
<circle cx="90" cy="35.5" r="0.9" fill="#dba21e" stroke="none"/>
</g></g>
<g transform="translate(598.64,676.99) scale(0.9816,0.9897)"><g fill="none" stroke="#dba21e" stroke-width="2.4" stroke-linecap="round" stroke-linejoin="round">
<rect x="7.5" y="8.5" width="81.5" height="58" rx="5"/>
<path d="M14.5,67 Q14.5,71.2 18.8,71.2 H21.5 Q25.5,71.2 25.5,67"/>
<path d="M69.5,67 Q69.5,71.2 73.8,71.2 H76.5 Q81,71.2 81,67"/>
<rect x="12" y="12.6" width="31.2" height="9.2" rx="3.2"/>
<path d="M17.5,21.5 L23,13 M28,21.5 L33.5,13"/>
<circle cx="27.6" cy="37.8" r="13.2"/>
<circle cx="27.6" cy="37.8" r="10.6" stroke-width="2.64" stroke-dasharray="2.2 2.4" stroke-linecap="butt"/>
<path d="M23.5,41.5 C23.2,38.5 26,35.5 31,34 C30.5,38 28.5,41 26,42 C24.8,42.5 23.8,42.3 23.5,41.5 Z"/>
<rect x="51" y="12.6" width="32.4" height="19.2" rx="2"/>
<path d="M54.2,30.5 V21 Q54.2,17.6 57.2,17.6 Q60.2,17.6 60.2,21 V25 Q60.2,28 63,28 Q66,28 66,25 V21 Q66,17.6 69,17.6 Q72,17.6 73,20 Q74.5,22.8 78,22.8 H83"/>
<circle cx="54.2" cy="39.6" r="3"/>
<circle cx="67.3" cy="39.6" r="3"/>
<circle cx="79.8" cy="39.6" r="3"/>
<rect x="51" y="45.9" width="32.4" height="15.6" rx="2.5"/>
<path d="M58.5,51.5 H76.5 M62,55.8 H72.5"/>
<path d="M13.2,56.8 H18.5 M13.2,61 H27"/>
</g></g></svg>
</body></html>
